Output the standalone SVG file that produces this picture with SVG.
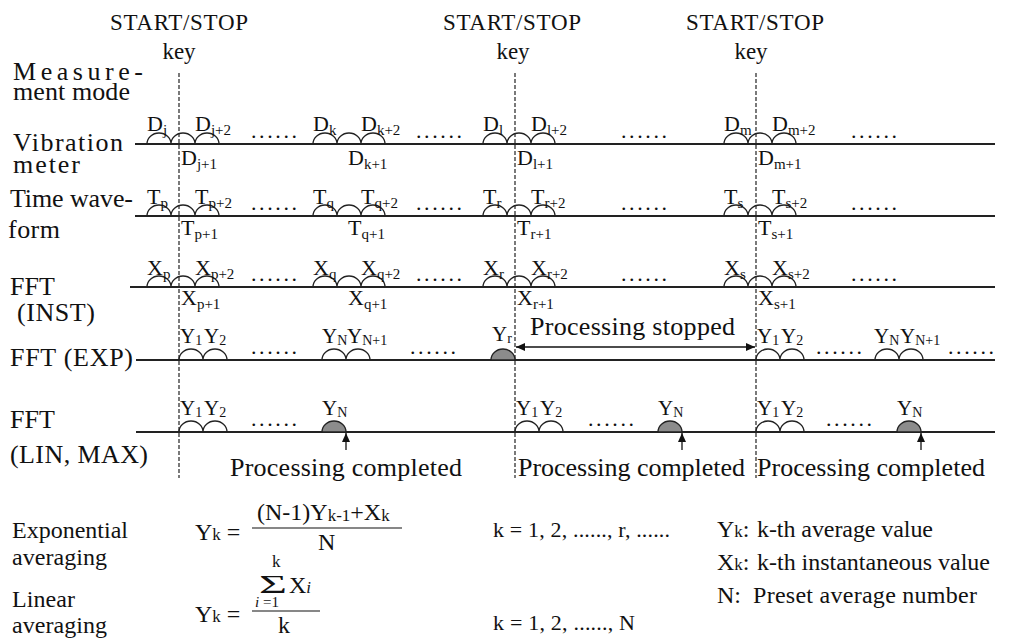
<svg xmlns="http://www.w3.org/2000/svg" xmlns:xlink="http://www.w3.org/1999/xlink" width="1012" height="639" viewBox="0 0 1012 639" font-family="'Liberation Serif', 'Times New Roman', serif">
<defs>
<style>
text, tspan{font-family:"Liberation Serif","Times New Roman",serif}
text{fill:#111}
.lab{font-size:26px}
.sm{font-size:22px}
.ys{font-size:21px}
.sub{font-size:15px}
.ysub{font-size:14px}
.dots{font-size:22px;letter-spacing:2.6px}
.top{font-size:23px;text-anchor:middle}
.leg{font-size:24px}
.base{stroke:#222;stroke-width:1.8;fill:none}
.arc{stroke:#222;stroke-width:1.3;fill:none}
.arcf{stroke:#222;stroke-width:1.3;fill:#8c8c8c}
.dash{stroke:#222;stroke-width:1.2;stroke-dasharray:4 2;fill:none}
.arr{stroke:#111;stroke-width:1.3;fill:none}
.frac{stroke:#111;stroke-width:1.2}
</style>
<path id="a3" d="M0,0 A12,11 0 0 1 24,0 A12,11 0 0 1 48,0 A12,11 0 0 1 72,0"/>
<path id="a2" d="M0,0 A12,11 0 0 1 24,0 A12,11 0 0 1 48,0"/>
<path id="f1" d="M0,0 A12,11 0 0 1 24,0 Z"/>
<marker id="ah" markerUnits="userSpaceOnUse" markerWidth="9" markerHeight="8" refX="9" refY="4" orient="auto-start-reverse" viewBox="0 0 9 8"><path d="M0,0 L9,4 L0,8 Z" fill="#111"/></marker>
</defs>
<rect width="1012" height="639" fill="#fff"/>

<g id="keys">
<text class="top" x="179" y="30" textLength="138">START/STOP</text>
<text class="top" x="179" y="59">key</text>
<text class="top" x="512" y="30" textLength="138">START/STOP</text>
<text class="top" x="513" y="59">key</text>
<text class="top" x="755" y="30" textLength="138">START/STOP</text>
<text class="top" x="751" y="59">key</text>
<line class="dash" x1="179" y1="73" x2="179" y2="478"/>
<line class="dash" x1="515" y1="73" x2="515" y2="478"/>
<line class="dash" x1="756" y1="73" x2="756" y2="478"/>
</g>

<g id="row-labels">
<text class="lab" x="13" y="80" textLength="130" lengthAdjust="spacing">Measure-</text>
<text class="lab" x="13" y="100" textLength="117">ment mode</text>
<text class="lab" x="13" y="151" textLength="110">Vibration</text>
<text class="lab" x="13" y="173" textLength="67">meter</text>
<text class="lab" x="10" y="207" textLength="123">Time wave-</text>
<text class="lab" x="8" y="238" textLength="52">form</text>
<text class="lab" x="10" y="295" textLength="45">FFT</text>
<text class="lab" x="17" y="321" textLength="78">(INST)</text>
<text class="lab" x="10" y="366" textLength="123">FFT (EXP)</text>
<text class="lab" x="10" y="428" textLength="45">FFT</text>
<text class="lab" x="10" y="463" textLength="138">(LIN, MAX)</text>
</g>

<g id="row-vibration">
<line class="base" x1="135" y1="144" x2="995" y2="144"/>
<use xlink:href="#a3" href="#a3" class="arc" x="147" y="144"/>
<use xlink:href="#a3" href="#a3" class="arc" x="313" y="144"/>
<use xlink:href="#a3" href="#a3" class="arc" x="483" y="144"/>
<use xlink:href="#a3" href="#a3" class="arc" x="724" y="144"/>
<text class="sm" x="147" y="131">D<tspan class="sub" dy="4">j</tspan></text>
<text class="sm" x="195" y="131">D<tspan class="sub" dy="4">j+2</tspan></text>
<text class="sm" x="181" y="165">D<tspan class="sub" dy="4">j+1</tspan></text>
<text class="sm" x="313" y="131">D<tspan class="sub" dy="4">k</tspan></text>
<text class="sm" x="361" y="131">D<tspan class="sub" dy="4">k+2</tspan></text>
<text class="sm" x="348" y="165">D<tspan class="sub" dy="4">k+1</tspan></text>
<text class="sm" x="483" y="131">D<tspan class="sub" dy="4">l</tspan></text>
<text class="sm" x="531" y="131">D<tspan class="sub" dy="4">l+2</tspan></text>
<text class="sm" x="517" y="165">D<tspan class="sub" dy="4">l+1</tspan></text>
<text class="sm" x="724" y="131">D<tspan class="sub" dy="4">m</tspan></text>
<text class="sm" x="772" y="131">D<tspan class="sub" dy="4">m+2</tspan></text>
<text class="sm" x="758" y="165">D<tspan class="sub" dy="4">m+1</tspan></text>
<text class="dots" x="251" y="138">......</text>
<text class="dots" x="416" y="138">......</text>
<text class="dots" x="621" y="138">......</text>
<text class="dots" x="851" y="138">......</text>
</g>

<g id="row-time">
<line class="base" x1="135" y1="216" x2="995" y2="216"/>
<use xlink:href="#a3" href="#a3" class="arc" x="147" y="216"/>
<use xlink:href="#a3" href="#a3" class="arc" x="313" y="216"/>
<use xlink:href="#a3" href="#a3" class="arc" x="483" y="216"/>
<use xlink:href="#a3" href="#a3" class="arc" x="724" y="216"/>
<text class="sm" x="147" y="204">T<tspan class="sub" dy="4">p</tspan></text>
<text class="sm" x="195" y="204">T<tspan class="sub" dy="4">p+2</tspan></text>
<text class="sm" x="181" y="235">T<tspan class="sub" dy="4">p+1</tspan></text>
<text class="sm" x="313" y="204">T<tspan class="sub" dy="4">q</tspan></text>
<text class="sm" x="361" y="204">T<tspan class="sub" dy="4">q+2</tspan></text>
<text class="sm" x="348" y="235">T<tspan class="sub" dy="4">q+1</tspan></text>
<text class="sm" x="483" y="204">T<tspan class="sub" dy="4">r</tspan></text>
<text class="sm" x="531" y="204">T<tspan class="sub" dy="4">r+2</tspan></text>
<text class="sm" x="517" y="235">T<tspan class="sub" dy="4">r+1</tspan></text>
<text class="sm" x="724" y="204">T<tspan class="sub" dy="4">s</tspan></text>
<text class="sm" x="772" y="204">T<tspan class="sub" dy="4">s+2</tspan></text>
<text class="sm" x="758" y="235">T<tspan class="sub" dy="4">s+1</tspan></text>
<text class="dots" x="251" y="210">......</text>
<text class="dots" x="416" y="210">......</text>
<text class="dots" x="621" y="210">......</text>
<text class="dots" x="851" y="210">......</text>
</g>

<g id="row-fft-inst">
<line class="base" x1="130" y1="287" x2="995" y2="287"/>
<use xlink:href="#a3" href="#a3" class="arc" x="147" y="287"/>
<use xlink:href="#a3" href="#a3" class="arc" x="313" y="287"/>
<use xlink:href="#a3" href="#a3" class="arc" x="483" y="287"/>
<use xlink:href="#a3" href="#a3" class="arc" x="724" y="287"/>
<text class="sm" x="147" y="275">X<tspan class="sub" dy="4">p</tspan></text>
<text class="sm" x="195" y="275">X<tspan class="sub" dy="4">p+2</tspan></text>
<text class="sm" x="181" y="305">X<tspan class="sub" dy="4">p+1</tspan></text>
<text class="sm" x="313" y="275">X<tspan class="sub" dy="4">q</tspan></text>
<text class="sm" x="361" y="275">X<tspan class="sub" dy="4">q+2</tspan></text>
<text class="sm" x="348" y="305">X<tspan class="sub" dy="4">q+1</tspan></text>
<text class="sm" x="483" y="275">X<tspan class="sub" dy="4">r</tspan></text>
<text class="sm" x="531" y="275">X<tspan class="sub" dy="4">r+2</tspan></text>
<text class="sm" x="517" y="305">X<tspan class="sub" dy="4">r+1</tspan></text>
<text class="sm" x="724" y="275">X<tspan class="sub" dy="4">s</tspan></text>
<text class="sm" x="772" y="275">X<tspan class="sub" dy="4">s+2</tspan></text>
<text class="sm" x="758" y="305">X<tspan class="sub" dy="4">s+1</tspan></text>
<text class="dots" x="251" y="281">......</text>
<text class="dots" x="416" y="281">......</text>
<text class="dots" x="621" y="281">......</text>
<text class="dots" x="851" y="281">......</text>
</g>

<g id="row-fft-exp">
<line class="base" x1="136" y1="360" x2="995" y2="360"/>
<use xlink:href="#a2" href="#a2" class="arc" x="179" y="360"/>
<use xlink:href="#a2" href="#a2" class="arc" x="322" y="360"/>
<use xlink:href="#f1" href="#f1" class="arcf" x="491" y="360"/>
<use xlink:href="#a2" href="#a2" class="arc" x="756" y="360"/>
<use xlink:href="#a2" href="#a2" class="arc" x="875" y="360"/>
<text class="ys" x="180" y="343">Y<tspan class="ysub" dy="2">1</tspan></text>
<text class="ys" x="204" y="343">Y<tspan class="ysub" dy="2">2</tspan></text>
<text class="ys" x="322" y="343">Y<tspan class="ysub" dy="2">N</tspan></text>
<text class="ys" x="347" y="343">Y<tspan class="ysub" dy="2">N+1</tspan></text>
<text class="ys" x="492" y="341">Y<tspan class="ysub" dy="2">r</tspan></text>
<text class="ys" x="757" y="343">Y<tspan class="ysub" dy="2">1</tspan></text>
<text class="ys" x="781" y="343">Y<tspan class="ysub" dy="2">2</tspan></text>
<text class="ys" x="874" y="343">Y<tspan class="ysub" dy="2">N</tspan></text>
<text class="ys" x="900" y="343">Y<tspan class="ysub" dy="2">N+1</tspan></text>
<text class="dots" x="251" y="354">......</text>
<text class="dots" x="410" y="354">......</text>
<text class="dots" x="816" y="354">......</text>
<text class="dots" x="948" y="354">......</text>
<text class="lab" x="530" y="335" textLength="205">Processing stopped</text>
</g>

<g id="row-fft-lin">
<line class="base" x1="136" y1="432" x2="995" y2="432"/>
<use xlink:href="#a2" href="#a2" class="arc" x="179" y="432"/>
<use xlink:href="#f1" href="#f1" class="arcf" x="322" y="432"/>
<use xlink:href="#a2" href="#a2" class="arc" x="515" y="432"/>
<use xlink:href="#f1" href="#f1" class="arcf" x="658" y="432"/>
<use xlink:href="#a2" href="#a2" class="arc" x="756" y="432"/>
<use xlink:href="#f1" href="#f1" class="arcf" x="897" y="432"/>
<text class="ys" x="180" y="415">Y<tspan class="ysub" dy="2">1</tspan></text>
<text class="ys" x="204" y="415">Y<tspan class="ysub" dy="2">2</tspan></text>
<text class="ys" x="322" y="415">Y<tspan class="ysub" dy="2">N</tspan></text>
<text class="ys" x="516" y="415">Y<tspan class="ysub" dy="2">1</tspan></text>
<text class="ys" x="540" y="415">Y<tspan class="ysub" dy="2">2</tspan></text>
<text class="ys" x="658" y="415">Y<tspan class="ysub" dy="2">N</tspan></text>
<text class="ys" x="757" y="415">Y<tspan class="ysub" dy="2">1</tspan></text>
<text class="ys" x="781" y="415">Y<tspan class="ysub" dy="2">2</tspan></text>
<text class="ys" x="897" y="415">Y<tspan class="ysub" dy="2">N</tspan></text>
<text class="dots" x="251" y="426">......</text>
<text class="dots" x="588" y="426">......</text>
<text class="dots" x="826" y="426">......</text>
<text class="lab" x="230" y="476" textLength="232">Processing completed</text>
<text class="lab" x="518" y="476" textLength="227">Processing completed</text>
<text class="lab" x="757" y="476" textLength="228">Processing completed</text>
</g>

<g id="connectors">
<line class="arr" x1="516" y1="347" x2="755" y2="347" marker-start="url(#ah)" marker-end="url(#ah)"/>
<line class="arr" x1="346" y1="450" x2="346" y2="433" marker-end="url(#ah)"/>
<line class="arr" x1="682" y1="450" x2="682" y2="433" marker-end="url(#ah)"/>
<line class="arr" x1="921" y1="450" x2="921" y2="433" marker-end="url(#ah)"/>
</g>

<g id="formulas">
<text class="leg" x="12" y="538" textLength="116">Exponential</text>
<text class="leg" x="12" y="565" textLength="95">averaging</text>
<text class="leg" x="12" y="607" textLength="63">Linear</text>
<text class="leg" x="12" y="633" textLength="95">averaging</text>

<text class="leg" x="195" y="540">Y<tspan font-size="17">k</tspan> =</text>
<text class="leg" x="257" y="520">(N-1)Y<tspan font-size="17" dy="1">k-1</tspan><tspan dy="-1">+X</tspan><tspan font-size="17" dy="1">k</tspan></text>
<line class="frac" x1="252" y1="528" x2="402" y2="528"/>
<text class="leg" x="318" y="550">N</text>

<text class="leg" x="195" y="622">Y<tspan font-size="17">k</tspan> =</text>
<text x="272" y="567" font-size="17">k</text>
<text x="259" y="593" font-size="25" textLength="28" lengthAdjust="spacingAndGlyphs">Σ</text>
<text class="leg" x="289" y="593">X<tspan font-size="17" font-style="italic">i</tspan></text>
<text x="255" y="607" font-size="15"><tspan font-style="italic">i</tspan> =1</text>
<line class="frac" x1="252" y1="611" x2="320" y2="611"/>
<text class="leg" x="278" y="633">k</text>

<text x="493" y="537" font-size="22" textLength="177">k = 1, 2, ......, r, ......</text>
<text x="493" y="630" font-size="22" textLength="142">k = 1, 2, ......, N</text>

<text class="leg" x="717" y="537">Y<tspan font-size="17">k</tspan>:</text>
<text class="leg" x="757" y="537" textLength="176">k-th average value</text>
<text class="leg" x="717" y="570">X<tspan font-size="17">k</tspan>:</text>
<text class="leg" x="757" y="570" textLength="233">k-th instantaneous value</text>
<text class="leg" x="717" y="603">N:</text>
<text class="leg" x="753" y="603" textLength="224">Preset average number</text>
</g>
</svg>
